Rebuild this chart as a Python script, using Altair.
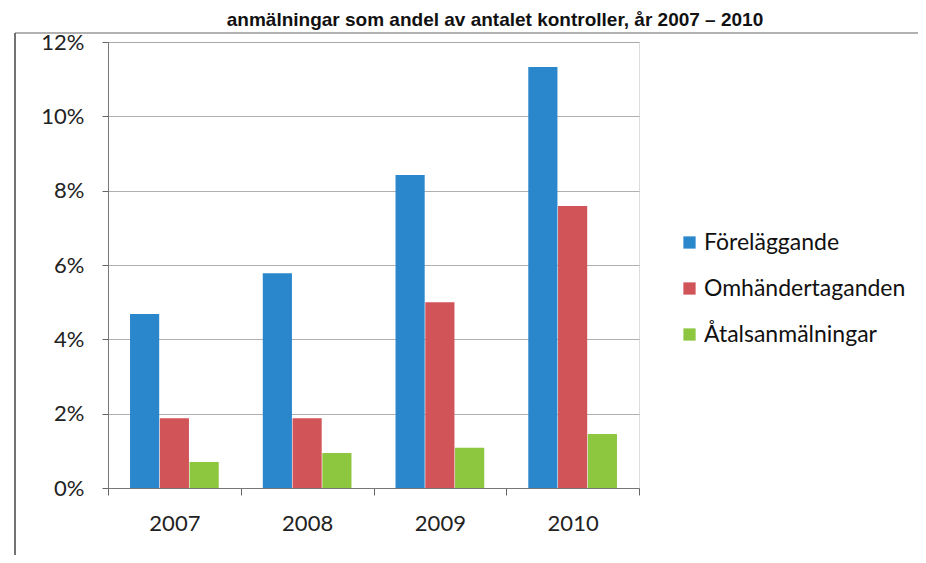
import altair as alt
import pandas as pd

years = ["2007", "2008", "2009", "2010"]
series = ["Föreläggande", "Omhändertaganden", "Åtalsanmälningar"]
forelaggande = [4.68, 5.78, 8.42, 11.33]
omhandertaganden = [1.88, 1.88, 5.0, 7.59]
atalsanmalningar = [0.70, 0.94, 1.08, 1.45]
colors = ["#2B87CB", "#D15459", "#8DC63F"]
title_text = "anmälningar som andel av antalet kontroller, år 2007 – 2010"

rows = []
for name, vals in zip(series, [forelaggande, omhandertaganden, atalsanmalningar]):
    for y, v in zip(years, vals):
        rows.append({"year": y, "serie": name, "value": v / 100})
df = pd.DataFrame(rows)

font = "Lato"

bars = alt.Chart(df).mark_bar().encode(
    x=alt.X("year:N", sort=years, title=None,
            scale=alt.Scale(paddingInner=0, paddingOuter=0),
            axis=alt.Axis(labelAngle=0, labelFontSize=22, labelFont=font, labelColor="#222",
                          tickBand="extent", tickSize=7, tickColor="#666", domainColor="#777",
                          labelPadding=18, grid=False)),
    xOffset=alt.XOffset("serie:N", sort=series,
                        scale=alt.Scale(paddingOuter=0.74, paddingInner=0.02)),
    y=alt.Y("value:Q", title=None,
            scale=alt.Scale(domain=[0, 0.12], nice=False),
            axis=alt.Axis(format=".0%", values=[0, 0.02, 0.04, 0.06, 0.08, 0.10, 0.12],
                          labelFontSize=22, labelFont=font, labelColor="#222",
                          tickSize=6, tickColor="#666", domainColor="#777",
                          labelPadding=18, gridColor="#9a9a9a", gridWidth=0.8)),
    color=alt.Color("serie:N", sort=series, title=None,
                    scale=alt.Scale(domain=series, range=colors),
                    legend=alt.Legend(orient="none", legendX=570, legendY=189,
                                      symbolType="square", symbolSize=150,
                                      symbolStrokeWidth=0, labelFontSize=23,
                                      labelFont=font, labelColor="#111",
                                      labelLimit=0,
                                      rowPadding=22, labelOffset=3)),
)

title = alt.Chart(pd.DataFrame({"t": [title_text]})).mark_text(
    font="Liberation Sans", fontWeight="bold", fontSize=19, baseline="alphabetic",
    align="center", color="#111"
).encode(text="t:N", x=alt.value(387), y=alt.value(-16))

frame_left = alt.Chart(pd.DataFrame({"a": [0]})).mark_rule(color="#444", strokeWidth=1.5).encode(
    x=alt.value(-93), y=alt.value(-9), y2=alt.value(530))
frame_top = alt.Chart(pd.DataFrame({"a": [0]})).mark_rule(color="#666", strokeWidth=1.2).encode(
    x=alt.value(-93), x2=alt.value(820), y=alt.value(-9))

chart = alt.layer(bars, title, frame_left, frame_top).properties(
    width=531, height=446,
    autosize=alt.AutoSizeParams(type="none"),
    padding={"left": 100, "top": 34, "right": 279, "bottom": 67},
).configure_view(stroke=None).configure(background="white")

chart.save("out.html", embed_options={"renderer": "svg", "actions": False})
